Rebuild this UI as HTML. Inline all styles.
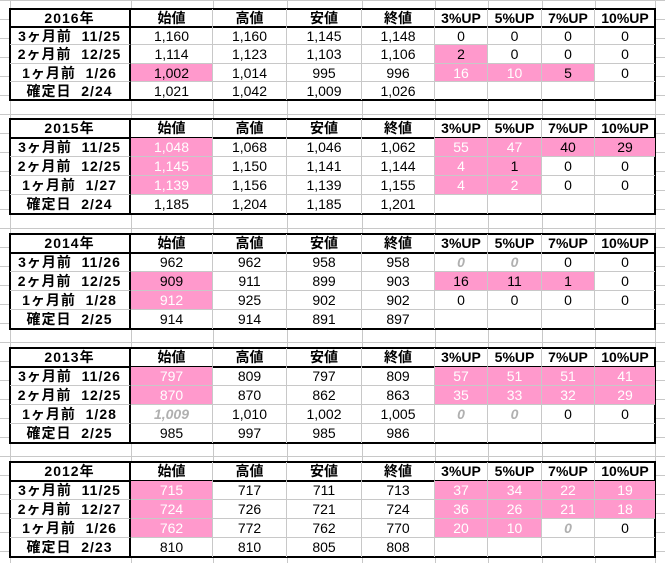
<!DOCTYPE html>
<html><head><meta charset="utf-8">
<style>
html,body{margin:0;padding:0;background:#fff;}
body{width:665px;height:563px;position:relative;overflow:hidden;font-family:"Liberation Sans","Noto Sans CJK JP",sans-serif;}
.vl{position:absolute;top:0;height:563px;width:1px;background:#c8c8c8;}
.hl{position:absolute;left:0;width:665px;height:1px;background:#c8c8c8;}
.tbl{position:absolute;left:9px;border:2px solid #000;box-sizing:border-box;background:#fff;}
.c{position:absolute;box-sizing:border-box;text-align:center;font-size:14px;color:#000;white-space:pre;border-bottom:1px solid #c8c8c8;border-right:1px solid #c8c8c8;}
.hd{font-weight:bold;border-bottom:2px solid #000;}
.lb{font-weight:bold;border-right:2px solid #000;letter-spacing:1px;}
.p{background:#ff99cc;}
.w{background:#ff99cc;color:#fff;}
.g{color:#b0b0b0;font-style:italic;font-weight:bold;}
</style></head><body>
<div id="grid"></div>
<div id="tables"></div>
<script>
const colX=[10,131,213,287,362,435,488,542,595,655];
const headers=["始値","高値","安値","終値","3%UP","5%UP","7%UP","10%UP"];
const years=["2016年","2015年","2014年","2013年","2012年"];
const tops=[8,118,233,347,461];
const rowLabels=[
["3ヶ月前  11/25","2ヶ月前  12/25","1ヶ月前  1/26","確定日  2/24"],
["3ヶ月前  11/25","2ヶ月前  12/25","1ヶ月前  1/27","確定日  2/24"],
["3ヶ月前  11/26","2ヶ月前  12/25","1ヶ月前  1/28","確定日  2/25"],
["3ヶ月前  11/26","2ヶ月前  12/25","1ヶ月前  1/28","確定日  2/25"],
["3ヶ月前  11/25","2ヶ月前  12/27","1ヶ月前  1/26","確定日  2/23"]];
const values=[
[["1,160","1,160","1,145","1,148","0","0","0","0"],["1,114","1,123","1,103","1,106","2","0","0","0"],["1,002","1,014","995","996","16","10","5","0"],["1,021","1,042","1,009","1,026","","","",""]],
[["1,048","1,068","1,046","1,062","55","47","40","29"],["1,145","1,150","1,141","1,144","4","1","0","0"],["1,139","1,156","1,139","1,155","4","2","0","0"],["1,185","1,204","1,185","1,201","","","",""]],
[["962","962","958","958","0","0","0","0"],["909","911","899","903","16","11","1","0"],["912","925","902","902","0","0","0","0"],["914","914","891","897","","","",""]],
[["797","809","797","809","57","51","51","41"],["870","870","862","863","35","33","32","29"],["1,009","1,010","1,002","1,005","0","0","0","0"],["985","997","985","986","","","",""]],
[["715","717","711","713","37","34","22","19"],["724","726","721","724","36","26","21","18"],["762","772","762","770","20","10","0","0"],["810","810","805","808","","","",""]]];
const styles=[
["........","....p...","p...wwp.","........"],
["w...wwpp","w...wp..","w...ww..","........"],
["....gg..","p...ppp.","w.......","........"],
["w...wwww","w...wwww","g...gg..","........"],
["w...wwww","w...wwww","w...wwg.","........"]];
const grid=document.getElementById('grid');
colX.forEach(x=>{const v=document.createElement('div');


v.className='vl';v.style.left=x+'px';grid.appendChild(v);});
for(let y=0;y<563;y+=19){const h=document.createElement('div');


h.className='hl';h.style.top=y+'px';grid.appendChild(h);}
const wrap=document.getElementById('tables');
years.forEach((yr,t)=>{
 const rh=t===0?18.2:19;
 const tb=document.createElement('div');
 
 
 tb.className='tbl';tb.style.top=tops[t]+'px';tb.style.width=(colX[9]-colX[0]+2)+'px';tb.style.height=(rh*5+2)+'px';
 wrap.appendChild(tb);
 function cell(r,c,txt,cls){const d=document.createElement('div');
  
  
  d.className='c '+cls;d.textContent=txt;
  const x0=colX[c]-colX[0]-1,x1=colX[c+1]-colX[0]-1;
  d.style.left=x0+'px';d.style.width=(x1-x0)+'px';
  d.style.top=(r*rh-1)+'px';d.style.height=(rh+(r===0?1:0))+'px';d.style.lineHeight=rh+'px';
  if(c===8)d.style.borderRight='none';
  if(r===4)d.style.borderBottom='none';
  tb.appendChild(d);}
 cell(0,0,yr,'hd lb');
 headers.forEach((h,i)=>cell(0,i+1,h,'hd'));
 for(let r=0;r<4;r++){
  cell(r+1,0,rowLabels[t][r],'lb');
  for(let c=0;c<8;c++){const s=styles[t][r][c];
   cell(r+1,c+1,values[t][r][c],s==='.'?'':s);}
 }
});
</script>
</body></html>
